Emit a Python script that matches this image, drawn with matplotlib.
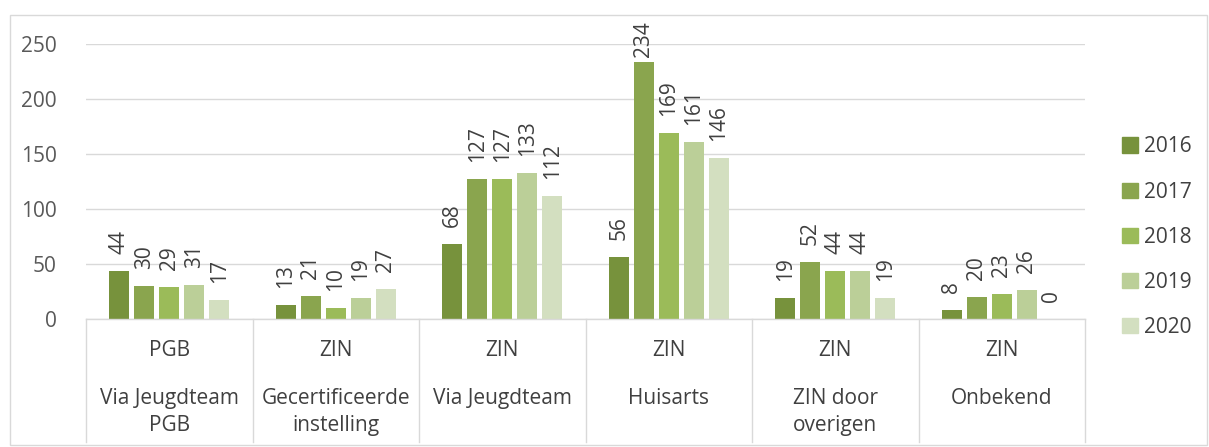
import matplotlib
matplotlib.use("Agg")
import matplotlib.pyplot as plt
from matplotlib.patches import Rectangle
import numpy as np

plt.rcParams['font.family'] = ['Open Sans', 'DejaVu Sans']

level1 = ["PGB", "ZIN", "ZIN", "ZIN", "ZIN", "ZIN"]
level2 = ["Via Jeugdteam\nPGB", "Gecertificeerde\ninstelling", "Via Jeugdteam",
          "Huisarts", "ZIN door\noverigen", "Onbekend"]
years = ["2016", "2017", "2018", "2019", "2020"]
v2016 = [44, 13, 68, 56, 19, 8]
v2017 = [30, 21, 127, 234, 52, 20]
v2018 = [29, 10, 127, 169, 44, 23]
v2019 = [31, 19, 133, 161, 44, 26]
v2020 = [17, 27, 112, 146, 19, 0]
series = [v2016, v2017, v2018, v2019, v2020]
colors = ["#77923C", "#8AA54E", "#9BBB59", "#BBCF98", "#D3DFC0"]

FS = 15
W, H = 1209, 447
fig = plt.figure(figsize=(W/100, H/100), dpi=100)
# outer border
fig.patches.append(Rectangle((10/W, 1-445/H), 1197/W, 430/H, transform=fig.transFigure,
                             fill=False, edgecolor="#d9d9d9", lw=1))

x0, x1 = 86, 1085
y_top, y_bot = 44, 319
ax = fig.add_axes([x0/W, 1-y_bot/H, (x1-x0)/W, (y_bot-y_top)/H])
ax.set_xlim(0, 6)
ax.set_ylim(0, 250)
for s in ax.spines.values():
    s.set_visible(False)
ax.set_yticks([0, 50, 100, 150, 200, 250])
ax.tick_params(axis='y', length=0, pad=21, labelsize=FS, labelcolor="#595959")
ax.set_xticks([])
ax.grid(axis='y', color="#d9d9d9", lw=1)
ax.set_axisbelow(True)

slot = 0.150
bw = 0.12
cx = np.arange(6) + 0.5
gap = 15.5        # label offset above bar (data units)
max_label = 238   # keep labels inside chart area
for i, (vals, c, yr) in enumerate(zip(series, colors, years)):
    xs = cx + (i - 2) * slot
    ax.bar(xs, vals, width=bw, color=c, label=yr, zorder=2)
    for x, v in zip(xs, vals):
        ax.text(x, min(v + gap, max_label), str(v), rotation=90, ha='center', va='bottom',
                fontsize=FS, color="#404040", clip_on=False)

# category axis table
tr = ax.get_xaxis_transform()
ax.plot([0, 6], [0, 0], transform=tr, color="#d9d9d9", lw=1, clip_on=False, zorder=3)
for b in range(7):
    ax.plot([b, b], [0, -123/275], transform=tr, color="#d9d9d9", lw=1, clip_on=False)
for i in range(6):
    ax.text(cx[i], -32/275, level1[i], transform=tr, ha='center', va='center',
            fontsize=FS, color="#404040")
    ax.text(cx[i], -69/275, level2[i], transform=tr, ha='center', va='top',
            fontsize=FS, color="#404040", linespacing=1.35)

handles = [Rectangle((0, 0), 1, 1, color=c) for c in colors]
leg = fig.legend(handles, years, loc='upper left', bbox_to_anchor=(1114/W, 1-128/H),
                 frameon=False, fontsize=FS, labelcolor="#404040",
                 handlelength=0.75, handleheight=0.75, handletextpad=0.3,
                 labelspacing=1.16, borderaxespad=0)

fig.savefig("out.png", dpi=100)
